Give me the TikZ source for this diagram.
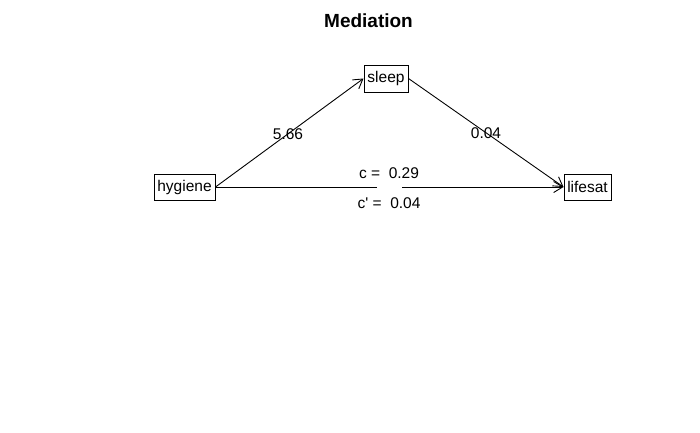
\documentclass[tikz,border=0pt]{standalone}
\usepackage{fontspec}
\setmainfont{Liberation Sans}
\usetikzlibrary{arrows.meta}
\begin{document}
\begin{tikzpicture}[x=1pt,y=-1pt,
  var/.style={draw,line width=1pt,inner sep=0pt,font=\fontsize{15.5}{18}\selectfont},
  lbl/.style={inner sep=0pt,font=\fontsize{15.5}{18}\selectfont},
  path/.style={line width=0.9pt,-{Straight Barb[length=9pt,width=11pt,line width=0.9pt]}},
  seg/.style={line width=0.9pt}]
\useasboundingbox (0,0) rectangle (700,432);
\node[font=\bfseries\fontsize{19}{22}\selectfont] (title) at (368.5,21) {Mediation};
\node[var,minimum width=61pt,minimum height=26pt] (hyg) at (184.5,187) {hygiene};
\node[var,minimum width=44pt,minimum height=27pt] (sleep) at (386,78.5) {sleep};
\node[var,minimum width=47pt,minimum height=26pt] (life) at (587.5,187) {lifesat};
\coordinate (g1) at (377,187);
\coordinate (g2) at (402,187);
\draw[path] (hyg.east) -- node[lbl,pos=0.49] (a) {5.66} (sleep.west);
\draw[path] (sleep.east) -- node[lbl,pos=0.5] (b) {0.04} (life.west);
\draw[seg] (hyg.east) -- (g1);
\draw[path] (g2) -- (life.west);
\node[lbl] (c) at (389,173) {c =\ \ 0.29};
\node[lbl] (cp) at (389,203) {c\textquotesingle\ =\ \ 0.04};
\end{tikzpicture}
\end{document}
